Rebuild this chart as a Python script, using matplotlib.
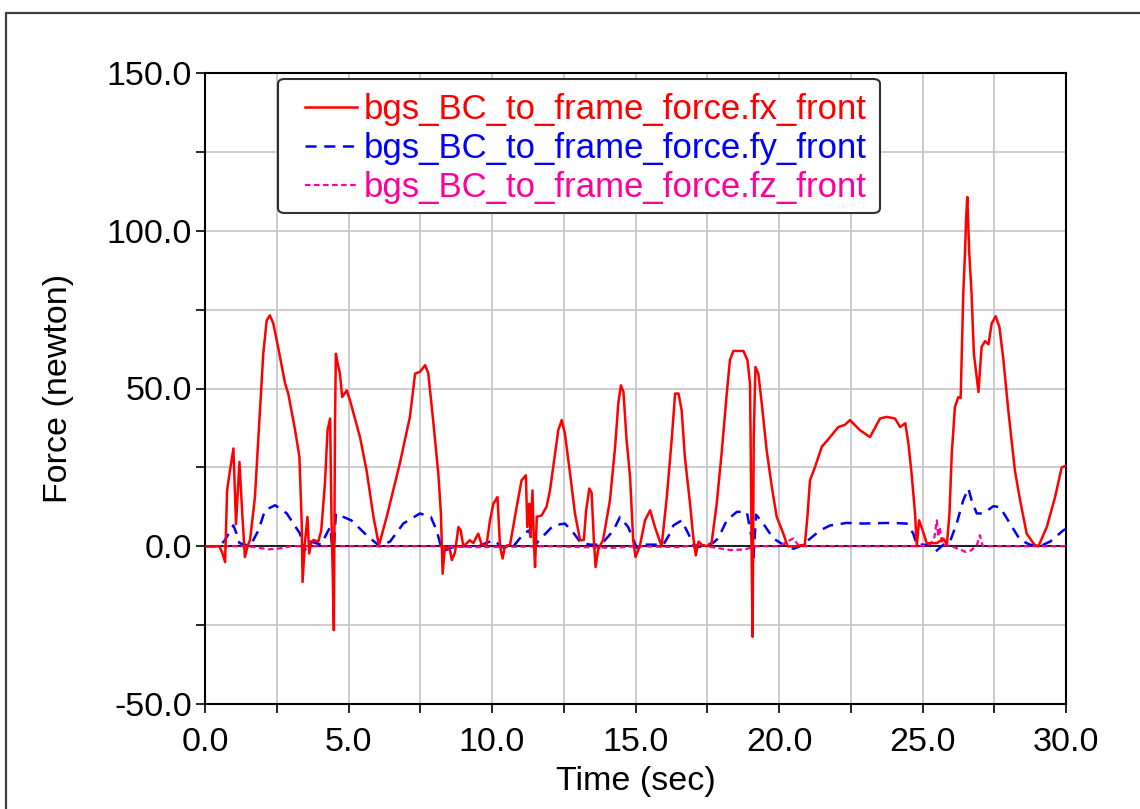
import matplotlib
matplotlib.use("Agg")
import matplotlib.pyplot as plt
from matplotlib.patches import Rectangle, FancyBboxPatch
from matplotlib.ticker import MultipleLocator, FormatStrFormatter

plt.rcParams['font.family'] = ['Liberation Sans', 'DejaVu Sans']
plt.rcParams['axes.unicode_minus'] = False
plt.rcParams['lines.scale_dashes'] = False

labels = ["bgs_BC_to_frame_force.fx_front",
          "bgs_BC_to_frame_force.fy_front",
          "bgs_BC_to_frame_force.fz_front"]
colors = ["#ff0000", "#0000ff", "#ff0099"]

t_fx = [0, 0.5, 0.6, 0.7, 0.77, 0.87, 0.99, 1.08, 1.2, 1.3, 1.39, 1.5, 1.57, 1.74, 1.89, 1.97,
        2.03, 2.15, 2.26, 2.38, 2.55, 2.79, 2.9, 3.14, 3.29, 3.37, 3.40, 3.48, 3.57, 3.63, 3.7,
        3.78, 3.95, 4.05, 4.18, 4.27, 4.36, 4.41, 4.45, 4.49, 4.53, 4.56, 4.62, 4.70, 4.78, 4.94,
        5.05, 5.40, 5.63, 5.87, 6.06, 6.33, 6.79, 7.14, 7.32, 7.49, 7.67, 7.78, 7.96, 8.13, 8.22,
        8.28, 8.36, 8.54, 8.6, 8.71, 8.83, 8.91, 9.0, 9.23, 9.35, 9.52, 9.64, 9.81, 9.93, 10.05,
        10.19, 10.28, 10.37, 10.45, 10.63, 10.86, 11.03, 11.18, 11.23, 11.30, 11.34, 11.41, 11.46,
        11.5, 11.56, 11.73, 11.9, 12.02, 12.2, 12.31, 12.43, 12.54, 12.72, 12.89, 13.07, 13.2,
        13.28, 13.39, 13.47, 13.55, 13.61, 13.7, 13.87, 14.11, 14.29, 14.40, 14.49, 14.58, 14.69,
        14.81, 14.92, 15.0, 15.15, 15.33, 15.51, 15.68, 15.91, 16.09, 16.26, 16.38, 16.5, 16.61,
        16.72, 16.9, 17.01, 17.1, 17.2, 17.31, 17.48, 17.65, 17.83, 18.0, 18.18, 18.29, 18.41,
        18.76, 18.9, 18.99, 19.01, 19.05, 19.08, 19.12, 19.18, 19.28, 19.40, 19.57, 19.75, 19.92,
        20.15, 20.3, 20.62, 20.9, 20.99, 21.08, 21.25, 21.49, 21.78, 22.07, 22.3, 22.47, 22.82,
        23.17, 23.52, 23.75, 24.04, 24.22, 24.4, 24.51, 24.62, 24.74, 24.8, 24.88, 24.97, 25.15,
        25.5, 25.73, 25.85, 25.94, 26.02, 26.13, 26.25, 26.33, 26.42, 26.48, 26.52, 26.56, 26.6,
        26.63, 26.71, 26.79, 26.95, 27.06, 27.18, 27.3, 27.41, 27.55, 27.68, 27.82, 27.99, 28.22,
        28.4, 28.63, 28.82, 28.92, 29.04, 29.33, 29.62, 29.85, 30.0]
fx = [0, 0, -2, -5, 17.7, 24, 31, 7, 26.7, 10, -3.4, 0.5, 2, 15.6, 39, 51.6,
      61, 71.6, 73.2, 70.6, 63, 51.6, 48.4, 36.8, 28.3, 7.2, -11.3, 1, 9.3, -2.3, 1,
      2, 1.5, 5, 20, 36.8, 40.5, 7.2, -8.6, -26.6, 39, 61, 58, 54.8, 47.3, 49.4,
      46.3, 34.6, 24, 9.3, 0.3, 9.3, 26.3, 41, 54.7, 55.3, 57.4, 54.8, 38.9, 23, 10.3,
      -8.7, 0, -1.3, -4.4, -2, 6.1, 5, 0, 1.9, 1, 4, 0.5, 0.5, 8.2, 13.5,
      15.6, 0, -3.9, 0, 0.5, 12.5, 20.9, 22.5, 6.1, 13.5, 3, 17.7, 1,
      -6.6, 9.3, 9.8, 12.5, 17.7, 29.4, 36.8, 40, 35.7, 23, 10.4, 1.9, 2,
      11.4, 18.3, 17, 1.9, -6.6, -1, 2, 14.6, 31.5, 45.2, 51, 49, 33.6,
      22, 1.9, -3.4, 0, 8.2, 11.4, 6, 0, 15.6, 33.6, 48.4, 48.4, 43,
      28.3, 13.5, 3, -2.9, 1.5, 0.5, 0, 1, 13.5, 29.4, 48.4, 59, 61.9,
      61.9, 59, 51.6, 34.6, -5.5, -28.7, 35, 56.8, 54.7, 45.2, 30.4, 18.8, 9.3,
      4, 0, 0, 0.5, 9.3, 20.9, 25, 31.5, 34.6, 37.8, 38.5, 40, 36.8,
      34.6, 40.5, 41, 40.5, 37.8, 39, 32.5, 23, 10.4, 0, 8.2, 6, 0.9,
      1, 2.4, 0.5, 10.4, 29.4, 44.2, 47.3, 47, 80, 92.8, 104, 110.7, 101,
      92.8, 80, 61, 48.9, 63.2, 65, 64, 70.6, 72.9, 69.5, 59, 43, 24,
      14.6, 4, 1.5, 0.4, 0, 6.1, 15.6, 25, 25.5]

t_fy = [0, 0.5, 0.7, 0.99, 1.1, 1.2, 1.39, 1.57, 1.86, 2.09, 2.44, 2.85, 3.31, 3.45, 3.68, 4.04,
        4.36, 4.47, 4.56, 4.82, 5.1, 5.63, 6.09, 6.45, 6.91, 7.49, 7.87, 8.07, 8.27, 8.57, 8.8,
        9.15, 9.5, 10.05, 10.4, 10.75, 11.1, 11.29, 11.46, 11.6, 12.14, 12.54, 12.86, 13.1, 13.44,
        13.8, 14.23, 14.46, 14.75, 15.04, 15.27, 15.97, 16.2, 16.32, 16.61, 16.84, 17.07, 17.3,
        17.7, 17.88, 18.18, 18.53, 18.88, 19.05, 19.1, 19.2, 19.45, 19.8, 20.15, 20.5, 20.73,
        20.96, 21.43, 21.78, 22.36, 22.94, 23.87, 24.45, 24.68, 24.8, 25.03, 25.26, 25.44, 25.73,
        25.96, 26.19, 26.42, 26.6, 26.71, 26.89, 27.12, 27.47, 27.7, 28.05, 28.4, 28.75, 29.1,
        29.45, 29.9, 30.0]
fy = [0, 0, 2, 6.6, 4, 1, 0.5, 0, 5, 11.4, 13, 10.4, 4, -1.6, 1.5, 0.5,
      6.1, -3.4, 10.4, 9.3, 8.2, 3.5, 0, 1.5, 7.2, 10.4, 9.3, 5, -1.6, -0.5, 0,
      0, 0, 1.9, -0.5, 0, 4, 5, -0.5, 1.5, 6.6, 7.2, 4, 1, 0.5,
      0.5, 5, 9.3, 6, -0.5, 0.5, 0.5, 4, 6.6, 8.2, 4, -0.5, 0,
      1, 2.5, 8.2, 10.9, 10.9, 2.5, -5.5, 10, 7.2, 2.5, 0.5, -0.8, 0,
      1.5, 5, 6.6, 7.4, 7.2, 7.4, 7.2, 4, 0.5, 0.5, 0.3, -1.8, 0.5,
      1.5, 7.2, 14.6, 18.3, 14.6, 10.4, 10.4, 12.7, 12.4, 7.2, 2, 0.5, 0,
      1.5, 5, 5.5]

t_fz = [0, 1.5, 1.9, 2.2, 2.6, 3.0, 8.0, 9.5, 12.0, 14.2, 15.0, 16.5, 17.2, 17.8, 18.3, 18.8,
        19.2, 20.0, 20.3, 20.5, 20.7, 21.0, 24.8, 25.2, 25.4, 25.5, 25.55, 25.6, 25.7, 26.0,
        26.3, 26.5, 26.7, 26.9, 27.0, 27.1, 27.5, 30.0]
fz = [0, 0, -0.5, -1, -0.7, 0, 0, -0.3, 0, -0.5, 0, -0.3, 0.5, -0.5, -1.2, -1,
      0, 0, 1.5, 2.5, 0, 0, 0, 0.3, 2, 8.2, 3, 6, 0.5, 0,
      -1, -1.8, -1.3, 0.5, 3.5, 0, 0, 0]

W, H = 1140, 809
fig = plt.figure(figsize=(W / 100, H / 100), dpi=100)
fig.patch.set_facecolor("white")
# outer frame of the screenshot
fig.patches.append(Rectangle((6 / W, -0.1), 1.2, 1.1 - 13 / H,
                             transform=fig.transFigure, fill=False,
                             edgecolor="#404040", linewidth=1.6, zorder=0))

ax = fig.add_axes([205 / W, 1 - 704 / H, (1066 - 205) / W, (704 - 73) / H])
ax.set_xlim(0, 30)
ax.set_ylim(-50, 150)

ax.xaxis.set_major_locator(MultipleLocator(5))
ax.xaxis.set_minor_locator(MultipleLocator(2.5))
ax.yaxis.set_major_locator(MultipleLocator(50))
ax.yaxis.set_minor_locator(MultipleLocator(25))
ax.xaxis.set_major_formatter(FormatStrFormatter("%.1f"))
ax.yaxis.set_major_formatter(FormatStrFormatter("%.1f"))

ax.grid(True, which="both", color="#c8c8c8", linewidth=1.3, zorder=0)
ax.set_axisbelow(True)
ax.tick_params(which="both", direction="out", length=6.5, width=1.2, color="black",
               top=False, right=False)
ax.tick_params(axis="y", which="major", labelsize=24.5, pad=3)
ax.tick_params(axis="x", which="major", labelsize=24.5, pad=10)
for s in ax.spines.values():
    s.set_linewidth(1.5)
    s.set_color("black")

ax.axhline(0, color="black", linewidth=1.2, zorder=1)

ax.plot(t_fx, fx, color=colors[0], linewidth=1.8, label=labels[0], zorder=4)
ax.plot(t_fy, fy, color=colors[1], linewidth=1.8, dashes=(8, 5.5), label=labels[1], zorder=3)
ax.plot(t_fz, fz, color=colors[2], linewidth=1.6, dashes=(4, 2.5), label=labels[2], zorder=3)

ax.set_xlabel("Time (sec)", fontsize=24.5, labelpad=6)
ax.set_ylabel("Force (newton)", fontsize=24.5, labelpad=23)

# legend frame (drawn separately to match the padding of the original)
frame = FancyBboxPatch((278 / W, 1 - 213 / H), (880 - 278) / W, (213 - 79) / H,
                       boxstyle="round,pad=0,rounding_size=0.006",
                       transform=fig.transFigure, facecolor="white",
                       edgecolor="#303030", linewidth=1.5, zorder=5, clip_on=False)
ax.add_patch(frame)

leg = ax.legend(loc="upper left", bbox_to_anchor=((305 - 205) / 861, (704 - 93) / 631),
                borderaxespad=0, fontsize=25, labelspacing=0.17, handlelength=1.5,
                handletextpad=0.2, borderpad=0.0, frameon=False)
leg.set_zorder(6)
for txt, c in zip(leg.get_texts(), colors):
    txt.set_color(c)

fig.savefig("out.png", dpi=100, facecolor="white")
